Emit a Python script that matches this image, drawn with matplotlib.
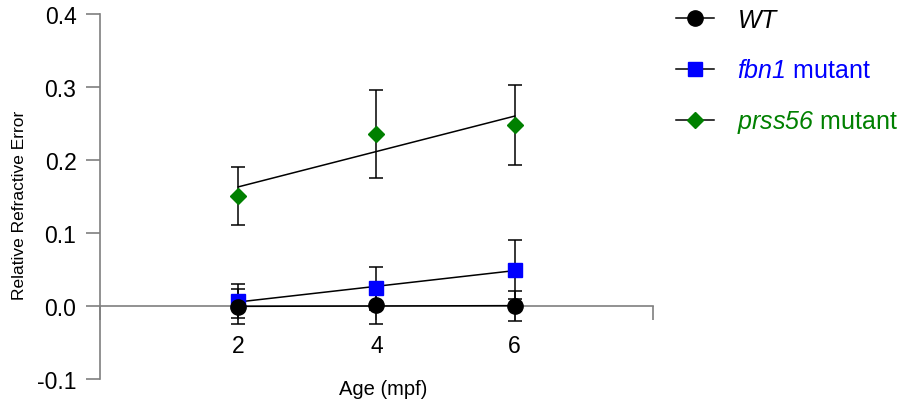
"""Relative refractive error vs age for WT, fbn1 and prss56 mutants."""

import matplotlib

matplotlib.use("Agg")
import matplotlib.pyplot as plt
import numpy as np
from matplotlib.lines import Line2D

plt.rcParams["font.family"] = ["Liberation Sans", "DejaVu Sans"]
# mathtext is only used for the italic gene names, digits included
plt.rcParams["mathtext.fontset"] = "custom"
plt.rcParams["mathtext.rm"] = "Liberation Sans:italic"
plt.rcParams["mathtext.it"] = "Liberation Sans:italic"

AGES = [2, 4, 6]

WT_MEAN = [-0.001, 0.001, 0.000]
WT_ERR = [0.024, 0.026, 0.020]

FBN1_MEAN = [0.007, 0.024, 0.050]
FBN1_ERR = [0.023, 0.029, 0.041]

PRSS56_MEAN = [0.151, 0.236, 0.248]
PRSS56_ERR = [0.040, 0.060, 0.055]

SERIES = [
    (r"$\it{prss56}$ mutant", PRSS56_MEAN, PRSS56_ERR, "D", "#008000", 8.5),
    (r"$\it{fbn1}$ mutant", FBN1_MEAN, FBN1_ERR, "s", "#0000ff", 10.5),
    (r"$\it{WT}$", WT_MEAN, WT_ERR, "o", "black", 11),
]

SPINE = "#7f7f7f"


def main() -> None:
    fig = plt.figure(figsize=(9.04, 4.10), dpi=100)
    ax = fig.add_axes((100 / 904, 30 / 410, 553 / 904, 365 / 410))

    x = np.array(AGES, dtype=float)
    for label, mean, err, marker, color, ms in SERIES:
        ax.errorbar(x, mean, yerr=err, fmt="none", ecolor="black",
                    elinewidth=1.1, capsize=5, capthick=1.1, zorder=2)
        slope, intercept = np.polyfit(x, mean, 1)
        xs = np.array([x.min(), x.max()])
        ax.plot(xs, slope * xs + intercept, color="black", lw=1.1, zorder=3)
        ax.plot(x, mean, linestyle="none", marker=marker, ms=ms,
                markerfacecolor=color, markeredgecolor=color, zorder=4)

    ax.set_xlim(0, 8)
    ax.set_ylim(-0.1, 0.4)
    ax.set_xticks([0, 2, 4, 6, 8])
    ax.set_xticklabels(["", "2", "4", "6", ""])
    ax.set_yticks([-0.1, 0.0, 0.1, 0.2, 0.3, 0.4])
    ax.set_yticklabels([f"{v:.1f}" for v in ax.get_yticks()])

    ax.spines["top"].set_visible(False)
    ax.spines["right"].set_visible(False)
    ax.spines["bottom"].set_position(("data", 0))
    for side in ("left", "bottom"):
        ax.spines[side].set_color(SPINE)
        ax.spines[side].set_linewidth(1.2)
    ax.tick_params(axis="both", color=SPINE, width=1.2, length=10, labelsize=16.5)
    ax.tick_params(axis="y", pad=7)
    ax.tick_params(axis="x", pad=10)

    ax.set_xlabel("Age (mpf)", fontsize=14.5)
    ax.xaxis.set_label_coords(0.512, 0.0)
    ax.set_ylabel("Relative Refractive Error", fontsize=12.5)
    ax.yaxis.set_label_coords(-0.132, 0.479)

    handles = [
        Line2D([], [], color="black", lw=1.1, marker=m, ms=ms,
               markerfacecolor=c, markeredgecolor=c)
        for _, _, _, m, c, ms in reversed(SERIES)
    ]
    labels = [s[0] for s in reversed(SERIES)]
    colors = [s[4] for s in reversed(SERIES)]
    fig.legend(handles, labels, loc="upper left",
               bbox_to_anchor=(676 / 904, 1 - 9 / 410),
               frameon=False, fontsize=18, labelcolor=colors,
               handlelength=1.5, handletextpad=0.95, labelspacing=1.05,
               borderpad=0, borderaxespad=0)

    fig.savefig("out.png", dpi=100)


if __name__ == "__main__":
    main()
